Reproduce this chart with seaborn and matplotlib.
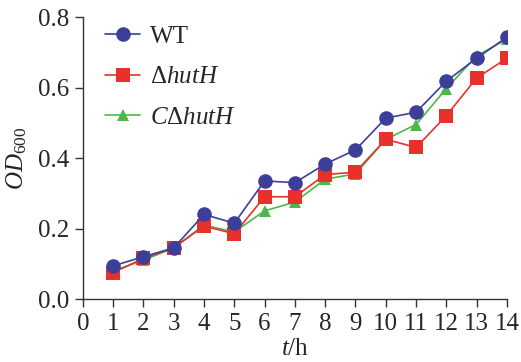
import numpy as np
import pandas as pd
import seaborn as sns
import matplotlib
matplotlib.use("Agg")
import matplotlib.pyplot as plt

hours = list(range(1, 15))
wt = [0.094, 0.120, 0.145, 0.240, 0.215, 0.335, 0.330, 0.383, 0.423, 0.513, 0.530, 0.618, 0.683, 0.743]
huth = [0.075, 0.115, 0.145, 0.207, 0.185, 0.290, 0.290, 0.353, 0.360, 0.453, 0.430, 0.520, 0.627, 0.683]
chuth = [0.080, 0.110, 0.145, 0.210, 0.190, 0.250, 0.275, 0.340, 0.355, 0.453, 0.495, 0.597, 0.690, 0.737]
labels = ["WT", r"$\mathrm{\Delta}\mathit{hutH}$", r"$\mathit{C}\mathrm{\Delta}\mathit{hutH}$"]
colors = ["#3b3f98", "#e8312b", "#4cb849"]
markers = ["o", "s", "^"]

df = pd.DataFrame({
    "t": hours * 3,
    "od": wt + huth + chuth,
    "strain": [labels[0]] * 14 + [labels[1]] * 14 + [labels[2]] * 14,
})

sns.set_theme(style="ticks")
plt.rcParams["font.family"] = ["Liberation Serif", "DejaVu Serif"]
plt.rcParams["mathtext.fontset"] = "custom"
plt.rcParams["mathtext.rm"] = "Liberation Serif"
plt.rcParams["mathtext.it"] = "Liberation Serif:italic"

fig, ax = plt.subplots(figsize=(5.21, 3.62), dpi=100)
sizes = {"o": 10.5, "s": 10, "^": 8}
zorders = [5, 4, 3]
for lab, c, m, z in zip(labels, colors, markers, zorders):
    sub = df[df["strain"] == lab]
    sns.lineplot(data=sub, x="t", y="od", ax=ax, color=c, marker=m,
                 markersize=sizes[m], markeredgewidth=0,
                 linewidth=1.2, label=lab, zorder=z)

ax.set_xlim(0, 14)
ax.set_ylim(0, 0.8)
ax.set_xticks(range(0, 15))
ax.set_yticks([0.0, 0.2, 0.4, 0.6, 0.8])
ax.set_yticklabels(["0.0", "0.2", "0.4", "0.6", "0.8"])
ax.tick_params(axis="both", labelsize=18, direction="out", length=6, width=1, color="#333333", pad=4)
for s in ["top", "right"]:
    ax.spines[s].set_visible(False)
for s in ["left", "bottom"]:
    ax.spines[s].set_linewidth(1.0)
    ax.spines[s].set_color("#333333")
ax.set_xlabel(r"$\mathit{t}$/h", fontsize=18, labelpad=2)
ax.set_ylabel(r"$\mathit{OD}_{\mathrm{600}}$", fontsize=18, labelpad=6)
leg = ax.legend(loc="upper left", frameon=False, fontsize=18, handlelength=1.4,
                bbox_to_anchor=(0.0, 1.05), labelspacing=0.72, handletextpad=0.4)
fig.subplots_adjust(left=0.159, right=0.973, bottom=0.174, top=0.953)
fig.savefig("out.png", dpi=100)
